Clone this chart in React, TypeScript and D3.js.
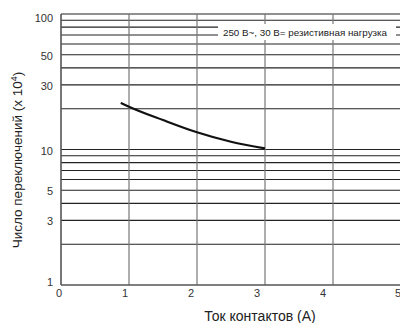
import React, { useEffect, useRef } from 'react';
import * as d3 from 'd3';

// readings from the chart
const curveCurrent = [0.88, 1.0, 1.5, 2.0, 2.5, 3.0];
const curveOps = [22.1, 20.7, 16.5, 13.4, 11.4, 10.2];
const xTicks = [0, 1, 2, 3, 4, 5];
const yTickLabels = [1, 3, 5, 10, 30, 50, 100];
const yGrid = [2, 3, 4, 5, 6, 7, 8, 9, 10, 20, 30, 40, 50, 60, 70, 80, 90, 100];
const legendText = '250 В~, 30 В= резистивная нагрузка';
const xTitle = 'Ток контактов (А)';

function Chart() {
    const ref = useRef<SVGSVGElement>(null);

    useEffect(() => {
        if (!ref.current) return;
        const svg = d3.select(ref.current);
        svg.selectAll('*').remove();

        const left = 61, top = 14, bottom = 285;
        const x = d3.scaleLinear().domain([0, 5]).range([left, left + 5 * 68]);
        const y = d3.scaleLog().domain([1, 100]).range([bottom, top]);
        const font = '"Liberation Sans", Arial, sans-serif';

        // horizontal grid
        svg.append('g')
            .selectAll('line')
            .data(yGrid)
            .join('line')
            .attr('x1', left)
            .attr('x2', 400)
            .attr('y1', d => y(d))
            .attr('y2', d => y(d))
            .attr('stroke', '#222')
            .attr('stroke-width', 1.1);

        // vertical grid
        svg.append('g')
            .selectAll('line')
            .data(xTicks)
            .join('line')
            .attr('x1', d => x(d))
            .attr('x2', d => x(d))
            .attr('y1', top)
            .attr('y2', bottom)
            .attr('stroke', d => (d === 0 ? '#555' : '#777'))
            .attr('stroke-width', d => (d === 0 ? 1.6 : 1.2));

        // bottom axis line
        svg.append('line')
            .attr('x1', left).attr('x2', 400)
            .attr('y1', bottom).attr('y2', bottom)
            .attr('stroke', '#555').attr('stroke-width', 1.6);

        // legend box
        svg.append('rect')
            .attr('x', 218).attr('y', 24)
            .attr('width', 178).attr('height', 16)
            .attr('fill', 'white');
        svg.append('text')
            .attr('x', 305).attr('y', 36)
            .attr('text-anchor', 'middle')
            .attr('font-family', font)
            .attr('font-size', 9.8)
            .attr('fill', '#222')
            .text(legendText);

        // curve
        const pts = curveCurrent.map((c, i) => [c, curveOps[i]] as [number, number]);
        svg.append('path')
            .datum(pts)
            .attr('d', d3.line<[number, number]>()
                .x(d => x(d[0]))
                .y(d => y(d[1]))
                .curve(d3.curveMonotoneX))
            .attr('fill', 'none')
            .attr('stroke', '#111')
            .attr('stroke-width', 2.2);

        // y tick labels
        svg.append('g')
            .selectAll('text')
            .data(yTickLabels)
            .join('text')
            .attr('x', 53)
            .attr('y', d => (d === 100 ? y(d) + 8 : d === 1 ? y(d) + 1 : y(d) + 5))
            .attr('text-anchor', 'end')
            .attr('font-family', font)
            .attr('font-size', 11)
            .attr('fill', '#333')
            .text(d => d);

        // x tick labels
        svg.append('g')
            .selectAll('text')
            .data(xTicks)
            .join('text')
            .attr('x', d => x(d) - (d === 5 ? 3 : 2 + d * 2))
            .attr('y', 297)
            .attr('text-anchor', 'middle')
            .attr('font-family', font)
            .attr('font-size', 11)
            .attr('fill', '#333')
            .text(d => d);

        // axis titles
        svg.append('text')
            .attr('x', 260).attr('y', 321)
            .attr('text-anchor', 'middle')
            .attr('font-family', font)
            .attr('font-size', 14)
            .attr('fill', '#222')
            .text(xTitle);

        const yt = svg.append('text')
            .attr('transform', 'translate(22,160) rotate(-90)')
            .attr('text-anchor', 'middle')
            .attr('font-family', font)
            .attr('font-size', 13.5)
            .attr('fill', '#222');
        yt.append('tspan').text('Число переключений (x 10');
        yt.append('tspan').attr('font-size', 9).attr('dy', -5).text('4');
        yt.append('tspan').attr('dy', 5).text(')');
    }, []);

    return (
        <svg
            ref={ref}
            width={400}
            height={323}
            style={{ position: 'absolute', left: 0, top: 0, background: 'white' }}
        />
    );
}

export default function App() {
    return <Chart />;
}
